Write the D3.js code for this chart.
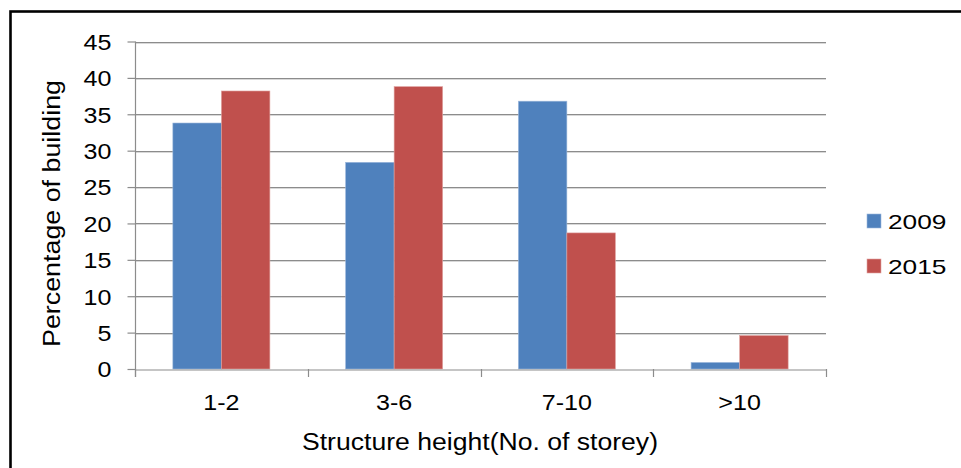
<!DOCTYPE html>
<html>
<head>
<meta charset="utf-8">
<script src="https://cdn.jsdelivr.net/npm/d3@7/dist/d3.min.js"></script>
<style>
  html, body { margin: 0; padding: 0; background: #fff; }
  svg { display: block; }
  text { font-family: "Liberation Sans", Arial, sans-serif; fill: #000; }
</style>
</head>
<body>
<svg id="chart" width="961" height="468"></svg>
<script>
const categories = ["1-2", "3-6", "7-10", ">10"];
const seriesNames = ["2009", "2015"];
const values2009 = [33.8, 28.4, 36.8, 0.9];
const values2015 = [38.2, 38.8, 18.7, 4.6];
const yTicks = [0, 5, 10, 15, 20, 25, 30, 35, 40, 45];
const colors = ["#4F81BD", "#C0504D"];

(function () {
const svg = d3.select("#chart");

// outer frame (right/bottom edges fall outside the picture)
svg.append("rect")
  .attr("x", 10.5).attr("y", 11.5).attr("width", 1200).attr("height", 1200)
  .attr("fill", "#fff").attr("stroke", "#000").attr("stroke-width", 2.6);

const pLeft = 135, pRight = 826, pTop = 41.5, pBottom = 369;

const x = d3.scaleBand().domain(categories).range([pLeft, pRight]).paddingInner(0).paddingOuter(0);
const x1 = d3.scaleBand().domain(seriesNames).range([0, x.bandwidth()]).paddingInner(0).paddingOuter(0.78);
const y = d3.scaleLinear().domain([0, 45]).range([pBottom, pTop]);

function stretch(sel, k) {
  sel.each(function () {
    const len = this.getComputedTextLength();
    d3.select(this).attr("textLength", len * k).attr("lengthAdjust", "spacingAndGlyphs");
  });
}

// gridlines
svg.append("g").selectAll("line").data(yTicks.filter(d => d > 0)).join("line")
  .attr("x1", pLeft).attr("x2", pRight)
  .attr("y1", d => Math.round(y(d)) + 0.5).attr("y2", d => Math.round(y(d)) + 0.5)
  .attr("stroke", "#8c8c8c").attr("stroke-width", 1.2);
svg.append("g").selectAll("line").data(yTicks.filter(d => d > 0)).join("line")
  .attr("x1", pLeft).attr("x2", pRight)
  .attr("y1", d => Math.round(y(d)) + 1.5).attr("y2", d => Math.round(y(d)) + 1.5)
  .attr("stroke", "#d8d8d8").attr("stroke-width", 1);

// bars
const data = categories.map((c, i) => ({ cat: c, vals: [values2009[i], values2015[i]] }));
const groups = svg.append("g").selectAll("g").data(data).join("g")
  .attr("transform", d => `translate(${x(d.cat)},0)`);
groups.selectAll("rect").data(d => d.vals.map((v, j) => ({ v, s: seriesNames[j], j }))).join("rect")
  .attr("x", d => x1(d.s))
  .attr("y", d => y(d.v))
  .attr("width", x1.bandwidth())
  .attr("height", d => y(0) - y(d.v))
  .attr("fill", d => colors[d.j])
  .attr("stroke", d => d.j === 0 ? "#9db8dc" : "#e0a3a1")
  .attr("stroke-width", 0.6);

// y axis
const yAxis = svg.append("g").attr("transform", `translate(${pLeft + 0.5},0)`)
  .call(d3.axisLeft(y).tickValues(yTicks).tickSize(8).tickPadding(14).tickFormat(d3.format("d")));
yAxis.select(".domain").attr("stroke", "#8c8c8c").attr("stroke-width", 1.2).attr("d", `M0,${pTop}V${pBottom + 8}`);
yAxis.selectAll(".tick line").attr("stroke", "#8c8c8c").attr("stroke-width", 1.2);
yAxis.selectAll(".tick text").attr("font-size", 22).attr("font-family", "Liberation Sans, Arial, sans-serif")
  .attr("fill", "#000").attr("dy", "0.36em").attr("x", -24);
stretch(yAxis.selectAll(".tick text"), 1.14);

// x axis
const xAxis = svg.append("g").attr("transform", `translate(0,${pBottom + 0.5})`)
  .call(d3.axisBottom(x).tickSize(0).tickPadding(25));
xAxis.select(".domain").attr("stroke", "#8c8c8c").attr("stroke-width", 1.2);
xAxis.selectAll(".tick text").attr("font-size", 22).attr("font-family", "Liberation Sans, Arial, sans-serif")
  .attr("fill", "#000").attr("dy", "0.71em");
stretch(xAxis.selectAll(".tick text"), 1.14);
// category boundary tick marks
svg.append("g").selectAll("line")
  .data(categories.map(c => x(c)).concat([x(categories[categories.length - 1]) + x.bandwidth()]))
  .join("line")
  .attr("x1", d => Math.round(d) + 0.5).attr("x2", d => Math.round(d) + 0.5)
  .attr("y1", pBottom).attr("y2", pBottom + 8)
  .attr("stroke", "#8c8c8c").attr("stroke-width", 1.2);

// axis titles
svg.append("text").attr("x", 480).attr("y", 450)
  .attr("text-anchor", "middle").attr("font-size", 23)
  .attr("textLength", 356).attr("lengthAdjust", "spacingAndGlyphs")
  .text("Structure height(No. of storey)");

svg.append("text")
  .attr("transform", `translate(60,213.5) rotate(-90)`)
  .attr("text-anchor", "middle").attr("font-size", 23)
  .attr("textLength", 267).attr("lengthAdjust", "spacingAndGlyphs")
  .text("Percentage of building");

// legend
const legend = svg.append("g").selectAll("g").data(seriesNames).join("g")
  .attr("transform", (d, i) => `translate(867,${214 + i * 45})`);
legend.append("rect").attr("width", 14).attr("height", 14)
  .attr("fill", (d, i) => colors[i])
  .attr("stroke", (d, i) => i === 0 ? "#9db8dc" : "#e0a3a1").attr("stroke-width", 0.6);
const lt = legend.append("text").attr("x", 21).attr("y", 15).attr("font-size", 21).text(d => d);
stretch(lt, 1.25);
})();
</script>
</body>
</html>
